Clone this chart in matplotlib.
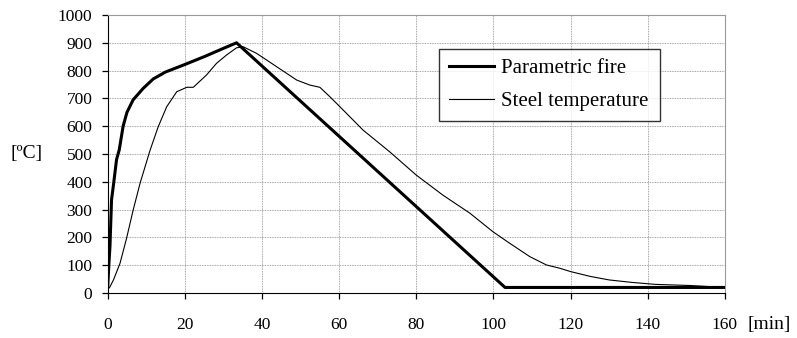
import numpy as np
import matplotlib
matplotlib.use("Agg")
import matplotlib.pyplot as plt

plt.rcParams['font.family'] = ['Liberation Serif', 'DejaVu Serif']

# parametric fire curve [min, degC]
fire_t = [0, 0.3, 0.6, 1.0, 1.6, 2.3, 3.0, 4.0, 5.0, 6.6, 9.2, 11.8, 15, 20,
          25, 30, 33.4, 103, 160]
fire_T = [20, 100, 170, 335, 400, 480, 515, 600, 650, 695, 736, 770, 795, 822,
          850, 880, 900, 20, 20]

# steel temperature [min, degC]
steel_t = [0, 0.5, 1.5, 3.2, 4.9, 6.6, 8.4, 11.0, 13.1, 15.3, 17.9, 20.5, 22.2,
           25.6, 28.2, 30.8, 33.4, 35.1, 38.6, 43.8, 49.0, 52.4, 55.0, 57.6,
           60.2, 66.2, 73.1, 80.0, 86.9, 93.9, 99.9, 104.2, 109.4, 113.7,
           117.2, 120, 125, 130, 136, 142, 151, 160]
steel_T = [15, 20, 47, 107, 197, 298, 395, 514, 598, 670, 724, 740, 740,
           784, 826, 856, 882, 886, 862, 814, 766, 748, 740, 706,
           670, 586, 508, 424, 352, 287, 220, 179, 131, 101,
           89, 77, 60, 47, 38, 31, 27, 20]

x_ticks = np.arange(0, 161, 20)
y_ticks = np.arange(0, 1001, 100)

fig = plt.figure(figsize=(7.97, 3.38), dpi=100)
ax = fig.add_axes([0.1351, 0.1331, 0.7745, 0.8225])

ax.plot(fire_t, fire_T, color='black', lw=2.2, label='Parametric fire',
        solid_joinstyle='round', zorder=3)
ax.plot(steel_t, steel_T, color='black', lw=0.8, label='Steel temperature',
        zorder=3)

ax.set_xlim(0, 160)
ax.set_ylim(0, 1000)
ax.set_xticks(x_ticks)
ax.set_yticks(y_ticks)
ax.grid(True, color='#8a8a8a', linestyle=(0, (1, 1)), lw=0.6)
ax.set_axisbelow(True)

for side in ('top', 'right'):
    ax.spines[side].set_color('#999999')
for side in ('left', 'bottom'):
    ax.spines[side].set_color('black')
ax.tick_params(axis='both', direction='out', length=4, width=0.9,
               labelsize=12.5, color='black')
ax.tick_params(axis='y', pad=7)
ax.tick_params(axis='x', pad=13)

fig.text(0.013, 0.545, '[ºC]', fontsize=14, va='center', ha='left')
fig.text(0.938, 0.040, '[min]', fontsize=14, va='center', ha='left')

leg = ax.legend(loc='upper left', bbox_to_anchor=(0.537, 0.622, 0.357, 0.255),
                mode='expand', frameon=True, fancybox=False, fontsize=15,
                handlelength=2.2, borderaxespad=0, labelspacing=0.65,
                handletextpad=0.3, borderpad=0.45)
leg.get_frame().set_edgecolor('black')
leg.get_frame().set_linewidth(1.0)

fig.savefig('out.png', dpi=100)
